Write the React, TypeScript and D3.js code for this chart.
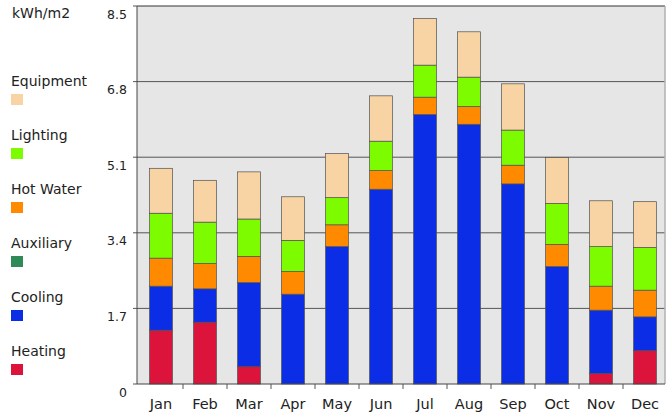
import * as d3 from 'd3'

// Monthly energy use intensity (kWh/m2) by end use, stacked
const MONTHS = ['Jan', 'Feb', 'Mar', 'Apr', 'May', 'Jun', 'Jul', 'Aug', 'Sep', 'Oct', 'Nov', 'Dec']
const HEATING = [1.21, 1.39, 0.39, 0, 0, 0, 0, 0, 0, 0, 0.24, 0.75]
const COOLING = [0.99, 0.75, 1.89, 2.02, 3.09, 4.38, 6.06, 5.84, 4.5, 2.64, 1.42, 0.76]
const AUXILIARY = [0, 0, 0, 0, 0, 0, 0, 0, 0, 0, 0, 0]
const HOT_WATER = [0.63, 0.57, 0.59, 0.51, 0.49, 0.42, 0.39, 0.4, 0.42, 0.5, 0.54, 0.6]
const LIGHTING = [1.01, 0.93, 0.84, 0.7, 0.61, 0.66, 0.72, 0.66, 0.79, 0.92, 0.89, 0.96]
const EQUIPMENT = [1.01, 0.94, 1.06, 0.98, 0.99, 1.02, 1.05, 1.02, 1.04, 1.03, 1.03, 1.03]
const Y_TICKS = [0, 1.7, 3.4, 5.1, 6.8, 8.5]

// bottom to top stack order
const SERIES = [
  { key: 'Heating', values: HEATING, color: '#dc143c' },
  { key: 'Cooling', values: COOLING, color: '#0b2de6' },
  { key: 'Auxiliary', values: AUXILIARY, color: '#2e8b57' },
  { key: 'Hot Water', values: HOT_WATER, color: '#ff8a00' },
  { key: 'Lighting', values: LIGHTING, color: '#7dfc00' },
  { key: 'Equipment', values: EQUIPMENT, color: '#f8d4a4' },
]

const W = 670
const H = 418
const plot = { left: 137, right: 665, top: 6, bottom: 384 }
const font = '"DejaVu Sans", Verdana, sans-serif'

export default function App() {
  const x = d3.scaleBand<string>()
    .domain(MONTHS)
    .range([plot.left, plot.right])
    .paddingInner(0.48)
    .paddingOuter(0.24)
  const y = d3.scaleLinear().domain([0, 8.5]).range([plot.bottom, plot.top])

  const rows = MONTHS.map((m, i) => {
    const r: Record<string, number | string> = { month: m }
    SERIES.forEach((s) => { r[s.key] = s.values[i] })
    return r
  })
  const stacked = d3.stack<Record<string, number | string>>()
    .keys(SERIES.map((s) => s.key))
    .value((d, k) => d[k] as number)(rows)

  const step = x.step()
  const shift = 2
  const boundaries = MONTHS.slice(1).map((m) => (x(m) as number) - (step - x.bandwidth()) / 2)

  // legend, top to bottom is the reverse of the stack
  const legend = [...SERIES].reverse()

  return (
    <svg width={W} height={H} style={{ position: 'absolute', left: 0, top: 0, background: '#fff' }}>
      <text x={12} y={18} fontFamily={font} fontSize={14} fill="#222">kWh/m2</text>
      {legend.map((s, i) => (
        <g key={s.key} transform={`translate(11, ${86 + i * 54})`}>
          <text x={0} y={0} fontFamily={font} fontSize={14} fill="#222">{s.key}</text>
          <rect x={0} y={8} width={12} height={11} fill={s.color} />
        </g>
      ))}

      <rect x={plot.left} y={plot.top} width={plot.right - plot.left} height={plot.bottom - plot.top} fill="#e6e6e6" />

      {Y_TICKS.map((t) => (
        <g key={t}>
          {t > 0 && (
            <line x1={plot.left} x2={plot.right} y1={y(t)} y2={y(t)} stroke={t === 8.5 ? '#333' : '#555'} strokeWidth={1} />
          )}
          <line x1={plot.left - 4} x2={plot.left} y1={y(t)} y2={y(t)} stroke="#555" />
          <text x={127} y={y(t) + 12.5} textAnchor="end" fontFamily={font} fontSize={12.5} fill="#222">{t}</text>
        </g>
      ))}
      <line x1={plot.right} x2={plot.right} y1={plot.top} y2={plot.bottom} stroke="#b0b0b0" strokeWidth={1.5} />

      {stacked.map((layer, li) => (
        <g key={layer.key} fill={SERIES[li].color}>
          {layer.map((d, i) => {
            const h = y(d[0]) - y(d[1])
            if (h <= 0.01) return null
            return (
              <rect
                key={i}
                x={(x(MONTHS[i]) as number) + shift}
                y={y(d[1])}
                width={x.bandwidth()}
                height={h}
                stroke="#505050"
                strokeWidth={0.7}
              />
            )
          })}
        </g>
      ))}

      <line x1={plot.left} x2={plot.left} y1={plot.top} y2={plot.bottom} stroke="#444" />
      <line x1={plot.left} x2={plot.right} y1={plot.bottom} y2={plot.bottom} stroke="#444" />
      {boundaries.map((bx, i) => (
        <line key={i} x1={bx + shift} x2={bx + shift} y1={plot.bottom} y2={plot.bottom + 5} stroke="#555" />
      ))}
      {MONTHS.map((m) => (
        <text
          key={m}
          x={(x(m) as number) + x.bandwidth() / 2 + shift}
          y={409}
          textAnchor="middle"
          fontFamily={font}
          fontSize={14.5}
          fill="#222"
        >
          {m}
        </text>
      ))}
    </svg>
  )
}
